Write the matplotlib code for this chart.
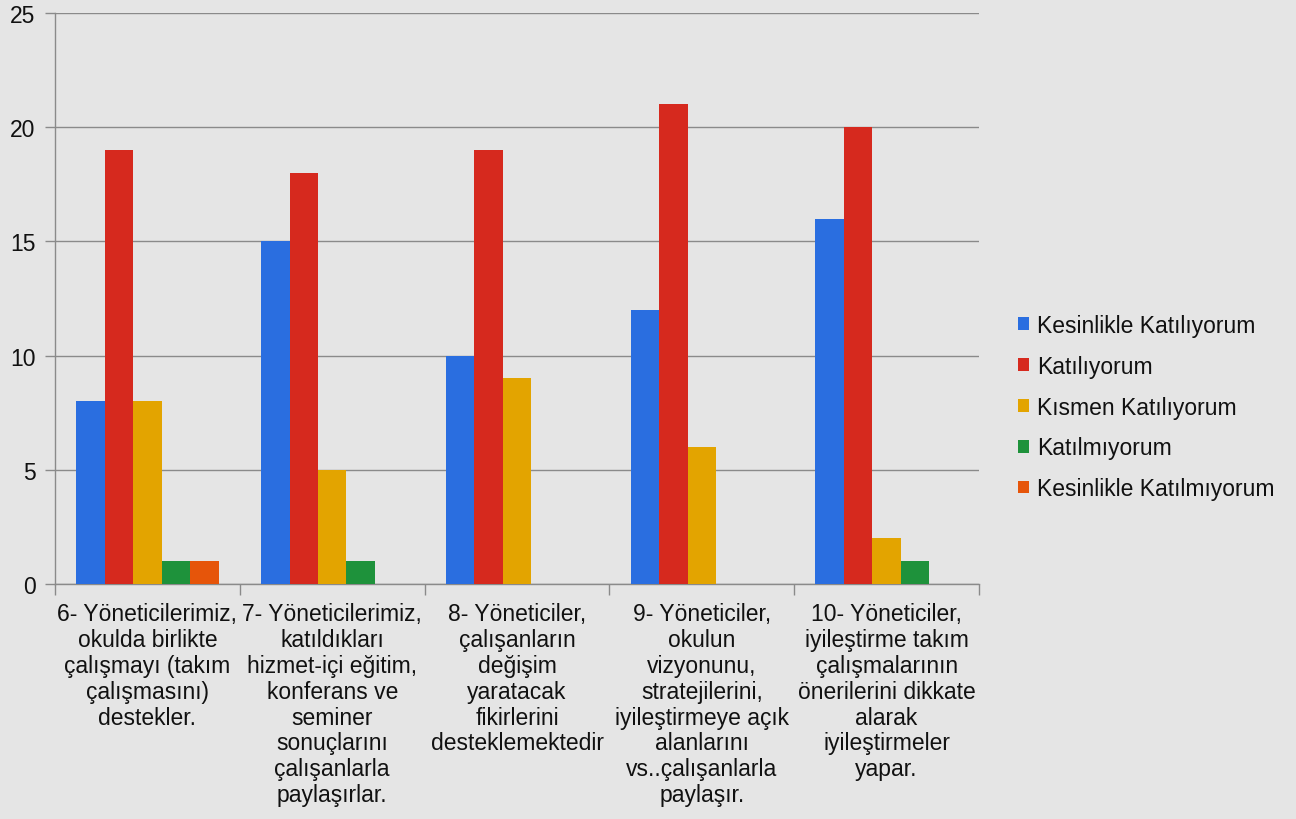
import numpy as np
import matplotlib
matplotlib.use("Agg")
import matplotlib.pyplot as plt
from matplotlib.patches import Patch

plt.rcParams["font.family"] = ["Liberation Sans", "DejaVu Sans"]

questions = [
    "6- Yöneticilerimiz,\nokulda birlikte\nçalışmayı (takım\nçalışmasını)\ndestekler.",
    "7- Yöneticilerimiz,\nkatıldıkları\nhizmet-içi eğitim,\nkonferans ve\nseminer\nsonuçlarını\nçalışanlarla\npaylaşırlar.",
    "8- Yöneticiler,\nçalışanların\ndeğişim\nyaratacak\nfikirlerini\ndesteklemektedir",
    "9- Yöneticiler,\nokulun\nvizyonunu,\nstratejilerini,\niyileştirmeye açık\nalanlarını\nvs..çalışanlarla\npaylaşır.",
    "10- Yöneticiler,\niyileştirme takım\nçalışmalarının\nönerilerini dikkate\nalarak\niyileştirmeler\nyapar.",
]
series_names = ["Kesinlikle Katılıyorum", "Katılıyorum", "Kısmen Katılıyorum",
                "Katılmıyorum", "Kesinlikle Katılmıyorum"]
kesinlikle_katiliyorum = [8, 15, 10, 12, 16]
katiliyorum = [19, 18, 19, 21, 20]
kismen = [8, 5, 9, 6, 2]
katilmiyorum = [1, 1, 0, 0, 1]
kesinlikle_katilmiyorum = [1, 0, 0, 0, 0]
values = [kesinlikle_katiliyorum, katiliyorum, kismen, katilmiyorum, kesinlikle_katilmiyorum]
colors = ["#2a6ee0", "#d6291e", "#e3a400", "#1e923b", "#e6550a"]

bg = "#e5e5e5"
fig = plt.figure(figsize=(12.96, 8.2), dpi=100, facecolor=bg)
ax = fig.add_axes([55/1296, (820-585)/820, (979-55)/1296, (585-14)/820], facecolor=bg)

x = np.arange(len(questions))
w = 0.154
for i, (vals, col) in enumerate(zip(values, colors)):
    ax.bar(x + (i - 2) * w, vals, w, color=col, zorder=3, linewidth=0)

ax.set_xlim(-0.5, len(questions) - 0.5)
ax.set_ylim(0, 25)
ax.set_yticks([0, 5, 10, 15, 20, 25])
ax.grid(axis="y", color="#8a8a8a", linewidth=1, zorder=0)
ax.set_xticks(x)
ax.set_xticklabels(questions, fontsize=16.5, color="#111111", linespacing=1.16, va="top")
ax.set_xticks(np.arange(-0.5, len(questions)), minor=True)
ax.tick_params(axis="x", which="major", length=0, pad=13)
ax.tick_params(axis="x", which="minor", length=8, color="#8a8a8a", width=1)
ax.tick_params(axis="y", length=7, color="#8a8a8a", width=1, labelsize=16.5, pad=7, labelcolor="#111111")
for s in ["top", "right"]:
    ax.spines[s].set_visible(False)
for s in ["left", "bottom"]:
    ax.spines[s].set_color("#8a8a8a")
    ax.spines[s].set_linewidth(1)

handles = [Patch(facecolor=c, edgecolor="none") for c in colors]
fig.legend(handles, series_names, loc="center left", bbox_to_anchor=(997/1296, 1 - 408/820),
           frameon=False, fontsize=16.5, handlelength=0.48, handleheight=0.48,
           handletextpad=0.35, labelspacing=0.78, labelcolor="#111111")

fig.savefig("out.png", dpi=100, facecolor=bg)
